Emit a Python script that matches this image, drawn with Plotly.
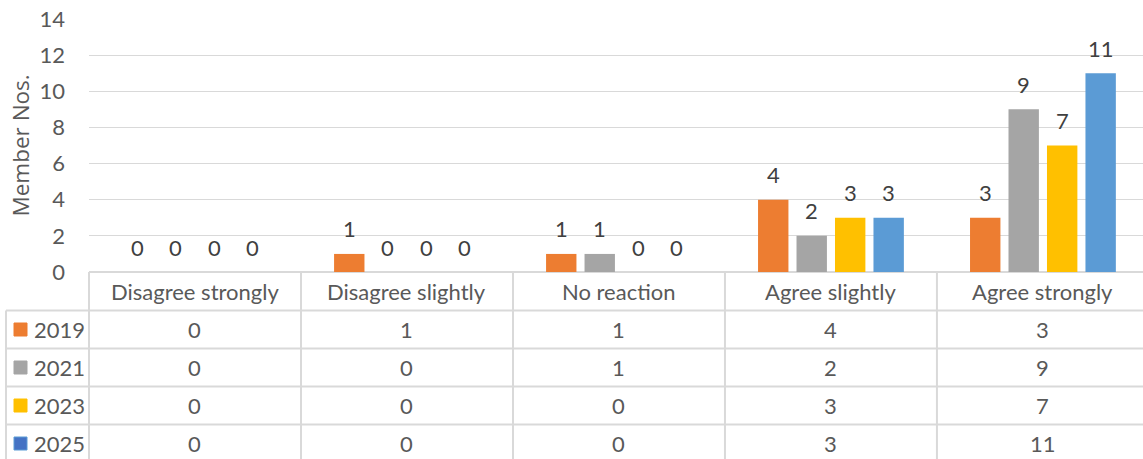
import plotly.graph_objects as go

categories = ["Disagree strongly", "Disagree slightly", "No reaction", "Agree slightly", "Agree strongly"]
years = ["2019", "2021", "2023", "2025"]
v2019 = [0, 1, 1, 4, 3]
v2021 = [0, 0, 1, 2, 9]
v2023 = [0, 0, 0, 3, 7]
v2025 = [0, 0, 0, 3, 11]
series = [v2019, v2021, v2023, v2025]
colors = ["#ED7D31", "#A5A5A5", "#FFC000", "#5B9BD5"]
key_colors = ["#ED7D31", "#A5A5A5", "#FFC000", "#4472C4"]
y_ticks = [0, 2, 4, 6, 8, 10, 12, 14]

FONT = "Lato"
W, H = 1143, 459
L, T, B = 89, 19, 187
plot_w = W - L
plot_h = H - T - B
x_max = 4.472
span = x_max + 0.5
bargap = 0.274
bargroupgap = 0.21
grid = "#D9D9D9"
txt = "#595959"
lbl = "#404040"
fs = 22


def px_x(p):
    return (p - L) / plot_w


def px_y(p):
    return (H - B - p) / plot_h


fig = go.Figure()
for name, vals, c in zip(years, series, colors):
    fig.add_trace(go.Bar(x=categories, y=vals, name=name, marker_color=c,
                         marker_line_width=0, showlegend=False))

ann = []
slot = (1 - bargap) / len(series)
for j, vals in enumerate(series):
    for i, v in enumerate(vals):
        ann.append(dict(x=i + (j - (len(series) - 1) / 2) * slot, y=v, xref="x", yref="y",
                        text=str(v), showarrow=False, yshift=25, yanchor="middle",
                        font=dict(family=FONT, size=fs, color=lbl)))

# table geometry (pixels)
header_top = H - B
header_bot = header_top + 38.5
row_h = 38
row_tops = [header_bot + k * row_h for k in range(len(years))]
legend_left = 6

shapes = []
line = dict(color=grid, width=2)
for k in range(len(categories) + 1):
    xp = k / span
    shapes.append(dict(type="line", xref="paper", yref="paper", x0=xp, x1=xp,
                       y0=px_y(header_top), y1=px_y(H + 5), line=line, layer="above"))
shapes.append(dict(type="line", xref="paper", yref="paper", x0=px_x(legend_left), x1=px_x(legend_left),
                   y0=px_y(header_bot), y1=px_y(H + 5), line=line))
for yp in row_tops:
    shapes.append(dict(type="line", xref="paper", yref="paper", x0=px_x(legend_left), x1=1.01,
                       y0=px_y(yp), y1=px_y(yp), line=line))

for i, c in enumerate(categories):
    ann.append(dict(x=i, y=px_y((header_top + header_bot) / 2), xref="x", yref="paper",
                    text=c, showarrow=False, yanchor="middle",
                    font=dict(family=FONT, size=fs, color=txt)))

for r, (name, vals, kc, sc) in enumerate(zip(years, series, key_colors, colors)):
    yc = row_tops[r] + row_h / 2
    shapes.append(dict(type="rect", xref="paper", yref="paper",
                       x0=px_x(14), x1=px_x(27), y0=px_y(yc - 6.5), y1=px_y(yc + 6.5),
                       fillcolor=kc, line=dict(width=1, color=sc)))
    ann.append(dict(x=px_x(32), y=px_y(yc), xref="paper", yref="paper", text=name,
                    showarrow=False, xanchor="left", yanchor="middle",
                    font=dict(family=FONT, size=fs, color=txt)))
    for i, v in enumerate(vals):
        ann.append(dict(x=i, y=px_y(yc), xref="x", yref="paper", text=str(v),
                        showarrow=False, yanchor="middle",
                        font=dict(family=FONT, size=fs, color=txt)))

ann.append(dict(x=px_x(20), y=0.5, xref="paper", yref="paper", text="Member Nos.",
                textangle=-90, showarrow=False, xanchor="center", yanchor="middle",
                font=dict(family="Open Sans", size=22.5, color=txt)))

fig.update_layout(
    width=W, height=H,
    margin=dict(l=L, r=0, t=T, b=B, pad=0),
    paper_bgcolor="white", plot_bgcolor="white",
    barmode="group", bargap=bargap, bargroupgap=bargroupgap,
    showlegend=False,
    shapes=shapes, annotations=ann,
    font=dict(family=FONT, size=fs, color=txt),
)
fig.update_xaxes(range=[-0.5, x_max], showticklabels=False, showgrid=False,
                 zeroline=False, showline=False, ticks="")
fig.update_yaxes(range=[0, 14], tickvals=y_ticks, showgrid=True, gridcolor=grid, gridwidth=1.3,
                 zeroline=True, zerolinecolor=grid, zerolinewidth=2, showline=False,
                 ticks="", ticklabelstandoff=23,
                 tickfont=dict(family=FONT, size=fs, color=txt))

fig.write_html("out.html", config={"displayModeBar": False},
               post_script="document.body.style.margin='0';document.body.style.overflow='hidden';")
